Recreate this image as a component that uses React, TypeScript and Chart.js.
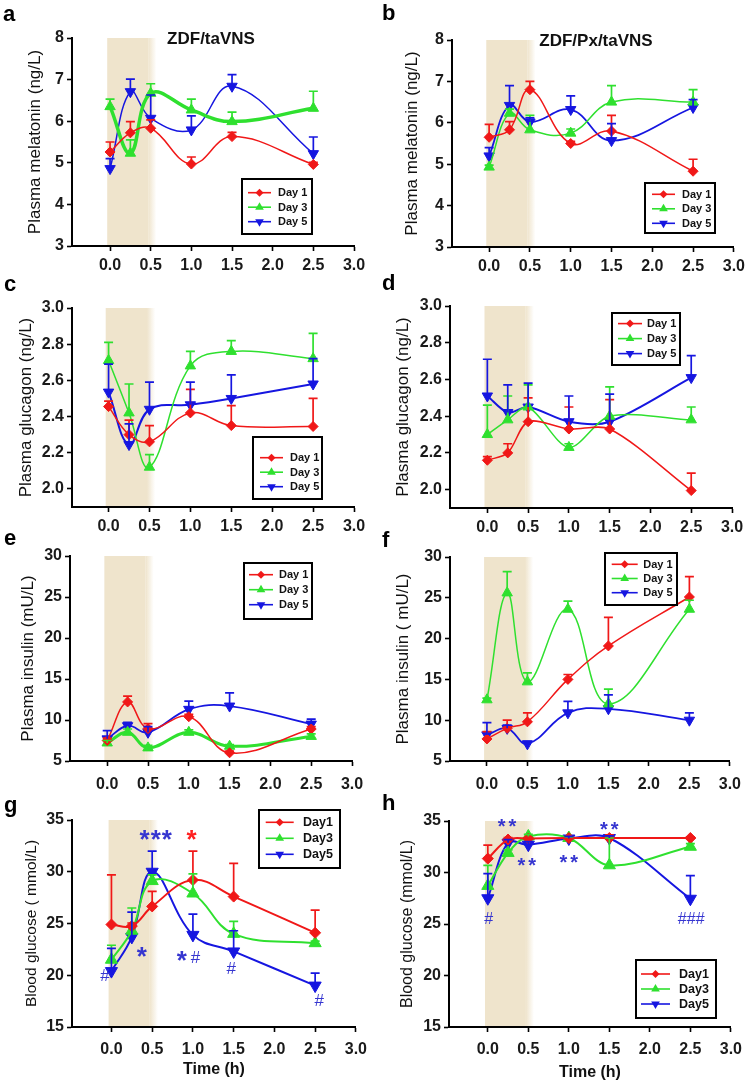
import React, { useEffect, useRef } from 'react';
import { Chart, registerables } from 'chart.js';

Chart.register(...registerables);
const FONT = 'Arial, "Liberation Sans", Helvetica, sans-serif';
Chart.defaults.font.family = FONT;

// ---------- shared axis values ----------
const sampleTimes = [0, 0.25, 0.5, 1.0, 1.5, 2.5];
const timeTicks = [0, 0.5, 1.0, 1.5, 2.0, 2.5, 3.0];
const melatoninTicks = [3, 4, 5, 6, 7, 8];
const glucagonTicks = [2.0, 2.2, 2.4, 2.6, 2.8, 3.0];
const insulinTicks = [5, 10, 15, 20, 25, 30];
const glucoseTicks = [15, 20, 25, 30, 35];
const stimulationWindow = [0, 0.5];
const dayLabelsSpaced = ['Day 1', 'Day 3', 'Day 5'];
const dayLabelsCompact = ['Day1', 'Day3', 'Day5'];

// ---------- (a) melatonin ZDF/taVNS ----------
const melZdfDay1 = [5.26, 5.72, 5.83, 4.97, 5.63, 4.96];
const melZdfDay1Err = [0.24, 0.27, 0.2, 0.17, 0.1, 0.05];
const melZdfDay3 = [6.35, 5.23, 6.67, 6.27, 5.99, 6.31];
const melZdfDay3Err = [0.18, 0.32, 0.23, 0.26, 0.23, 0.41];
const melZdfDay5 = [4.86, 6.71, 6.07, 5.79, 6.84, 5.22];
const melZdfDay5Err = [0.24, 0.3, 0.56, 0.34, 0.28, 0.4];

// ---------- (b) melatonin ZDF/Px/taVNS ----------
const melPxDay1 = [5.65, 5.83, 6.8, 5.5, 5.8, 4.83];
const melPxDay1Err = [0.31, 0.2, 0.2, 0.05, 0.38, 0.29];
const melPxDay3 = [4.93, 6.23, 5.83, 5.75, 6.5, 6.5];
const melPxDay3Err = [0.05, 0.1, 0.35, 0.1, 0.4, 0.3];
const melPxDay5 = [5.2, 6.42, 6.02, 6.32, 5.57, 6.37];
const melPxDay5Err = [0.2, 0.48, 0.1, 0.33, 0.41, 0.19];

// ---------- (c) glucagon ZDF/taVNS ----------
const gcgZdfDay1 = [2.455, 2.3, 2.26, 2.42, 2.35, 2.345];
const gcgZdfDay1Err = [0.03, 0.08, 0.09, 0.13, 0.11, 0.155];
const gcgZdfDay3 = [2.71, 2.42, 2.12, 2.68, 2.76, 2.72];
const gcgZdfDay3Err = [0.1, 0.16, 0.07, 0.08, 0.06, 0.14];
const gcgZdfDay5 = [2.535, 2.245, 2.44, 2.465, 2.5, 2.58];
const gcgZdfDay5Err = [0.155, 0.115, 0.15, 0.125, 0.13, 0.14];

// ---------- (d) glucagon ZDF/Px/taVNS ----------
const gcgPxDay1 = [2.16, 2.2, 2.37, 2.33, 2.33, 1.995];
const gcgPxDay1Err = [0.02, 0.05, 0.13, 0.12, 0.16, 0.095];
const gcgPxDay3 = [2.3, 2.38, 2.45, 2.23, 2.4, 2.38];
const gcgPxDay3Err = [0.16, 0.13, 0.12, 0.02, 0.16, 0.07];
const gcgPxDay5 = [2.51, 2.42, 2.45, 2.37, 2.37, 2.61];
const gcgPxDay5Err = [0.2, 0.15, 0.13, 0.14, 0.15, 0.12];

// ---------- (e) insulin ZDF/taVNS ----------
const insZdfDay1 = [7.5, 12.2, 8.95, 10.4, 6.0, 8.9];
const insZdfDay1Err = [0.3, 0.7, 0.6, 0.3, 0.2, 0.3];
const insZdfDay3 = [7.2, 8.5, 6.6, 8.5, 6.8, 8.0];
const insZdfDay3Err = [0.3, 0.4, 0.3, 0.3, 0.2, 0.3];
const insZdfDay5 = [7.7, 9.3, 8.5, 11.3, 11.7, 9.5];
const insZdfDay5Err = [1.0, 0.4, 0.7, 1.0, 1.6, 0.6];

// ---------- (f) insulin ZDF/Px/taVNS ----------
const insPxDay1 = [7.7, 9.0, 9.8, 15.0, 19.1, 25.1];
const insPxDay1Err = [0.9, 1.0, 1.1, 0.6, 3.5, 2.5];
const insPxDay3 = [12.5, 25.6, 14.7, 23.6, 12.0, 23.6];
const insPxDay3Err = [0.2, 2.6, 1.1, 1.0, 1.8, 1.1];
const insPxDay5 = [8.2, 9.0, 7.1, 10.9, 11.4, 10.0];
const insPxDay5Err = [1.5, 0.4, 0.3, 1.4, 1.7, 0.9];

// ---------- (g) glucose ZDF/taVNS ----------
const gluZdfDay1 = [24.9, 24.75, 26.65, 29.2, 27.6, 24.1];
const gluZdfDay1Err = [4.8, 0.3, 1.45, 2.8, 3.2, 2.2];
const gluZdfDay3 = [21.5, 24.3, 29.1, 27.9, 24.0, 23.1];
const gluZdfDay3Err = [1.4, 2.2, 0.6, 1.9, 1.2, 0.2];
const gluZdfDay5 = [20.4, 23.7, 30.0, 23.9, 22.3, 19.0];
const gluZdfDay5Err = [2.2, 2.4, 2.0, 2.0, 2.0, 1.2];
const gluZdfMarkText = ['***', '*', '*', '*', '#', '#', '#', '#'];
const gluZdfMarkX = [0.55, 0.99, 0.38, 0.87, 1.03, 1.47, -0.08, 2.55];
const gluZdfMarkY = [33.0, 33.0, 21.68, 21.33, 21.65, 20.53, 19.88, 17.47];
const gluZdfMarkColor = ['blue', 'red', 'blue', 'blue', 'blue', 'blue', 'blue', 'blue'];

// ---------- (h) glucose ZDF/Px/taVNS ----------
const gluPxDay1 = [31.35, 33.2, 33.3, 33.35, 33.35, 33.35];
const gluPxDay1Err = [1.3, 0.2, 0.1, 0.1, 0.3, 0.1];
const gluPxDay3 = [28.7, 31.9, 33.5, 33.35, 30.7, 32.5];
const gluPxDay3Err = [2.0, 0.3, 0.2, 0.1, 2.65, 0.3];
const gluPxDay5 = [27.5, 32.9, 32.7, 33.3, 33.35, 27.45];
const gluPxDay5Err = [2.4, 0.3, 0.3, 0.2, 0.2, 2.25];
const gluPxMarkText = ['**', '**', '**', '**', '#', '###'];
const gluPxMarkX = [0.256, 0.5, 1.017, 1.517, 0.012, 2.51];
const gluPxMarkY = [34.36, 30.55, 30.88, 34.1, 25.45, 25.45];
const gluPxMarkColor = ['blue', 'blue', 'blue', 'blue', 'blue', 'blue'];

// ---------- styles ----------
const RED = '#f01818';
const GREEN = '#2fe02f';
const BLUE = '#1616e0';
const MARK_COLORS: Record<string, string> = { blue: '#3636d0', red: '#ff2020' };
const BAND_COLOR = 'rgba(239,228,204,1)';
const BAND_CLEAR = 'rgba(239,228,204,0)';

type Shape = 'diamond' | 'up' | 'down';
type Series = { label: string; values: number[]; errors: number[]; color: string; shape: Shape; width: number };
type Rect = { left: number; top: number; width: number; height: number };
type LegendCfg = {
  left: number; top: number; width: number; height: number; firstRow: number; rowGap: number;
  sampleStart: number; sampleLen: number; textOffset: number; fontSize: number;
};
type Panel = {
  letter: string; letterAt: [number, number]; title?: string; titleAt?: [number, number];
  canvas: Rect; area: { left: number; top: number; right: number; bottom: number };
  xMin: number; yMin: number; yMax: number; yTicks: number[]; yDecimals: number;
  yTitle: string; yTitleX: number; yTitleSize: number; xTickPad: number;
  xTitle?: string; xTitleY?: number;
  series: Series[]; tension: number; diamondR: number; triR: number;
  legend: LegendCfg;
  marks?: { text: string[]; x: number[]; y: number[]; color: string[]; starSize: number; hashSize: number; spacing: number };
};

function trio(labels: string[], d1: number[], e1: number[], d3: number[], e3: number[], d5: number[], e5: number[], widths: number[]): Series[] {
  return [
    { label: labels[0], values: d1, errors: e1, color: RED, shape: 'diamond', width: widths[0] },
    { label: labels[1], values: d3, errors: e3, color: GREEN, shape: 'up', width: widths[1] },
    { label: labels[2], values: d5, errors: e5, color: BLUE, shape: 'down', width: widths[2] },
  ];
}

const panels: Panel[] = [
  {
    letter: 'a', letterAt: [3, 21], title: 'ZDF/taVNS', titleAt: [211, 39],
    canvas: { left: 0, top: 0, width: 375, height: 280 }, area: { left: 72, top: 38, right: 354, bottom: 246 },
    xMin: -0.468, yMin: 3, yMax: 8, yTicks: melatoninTicks, yDecimals: 0,
    yTitle: 'Plasma melatonin (ng/L)', yTitleX: 35, yTitleSize: 17, xTickPad: 5,
    series: trio(dayLabelsSpaced, melZdfDay1, melZdfDay1Err, melZdfDay3, melZdfDay3Err, melZdfDay5, melZdfDay5Err, [1.5, 3.5, 1.5]),
    tension: 0.4, diamondR: 5, triR: 6,
    legend: { left: 242, top: 179, width: 70, height: 55, firstRow: 13.7, rowGap: 14.5, sampleStart: 6, sampleLen: 23, textOffset: 36, fontSize: 11 },
  },
  {
    letter: 'b', letterAt: [382, 20], title: 'ZDF/Px/taVNS', titleAt: [596, 41],
    canvas: { left: 375, top: 0, width: 375, height: 280 }, area: { left: 452, top: 40, right: 734, bottom: 247 },
    xMin: -0.455, yMin: 3, yMax: 8, yTicks: melatoninTicks, yDecimals: 0,
    yTitle: 'Plasma melatonin (ng/L)', yTitleX: 412, yTitleSize: 17, xTickPad: 5,
    series: trio(dayLabelsSpaced, melPxDay1, melPxDay1Err, melPxDay3, melPxDay3Err, melPxDay5, melPxDay5Err, [1.5, 1.5, 1.8]),
    tension: 0.4, diamondR: 5, triR: 6,
    legend: { left: 645, top: 183, width: 70, height: 50, firstRow: 11.3, rowGap: 14.5, sampleStart: 7, sampleLen: 23, textOffset: 37, fontSize: 11 },
  },
  {
    letter: 'c', letterAt: [4, 291],
    canvas: { left: 0, top: 270, width: 375, height: 270 }, area: { left: 72, top: 308, right: 354, bottom: 507 },
    xMin: -0.447, yMin: 1.9, yMax: 3.0, yTicks: glucagonTicks, yDecimals: 1,
    yTitle: 'Plasma glucagon (ng/L)', yTitleX: 26, yTitleSize: 17, xTickPad: 5,
    series: trio(dayLabelsSpaced, gcgZdfDay1, gcgZdfDay1Err, gcgZdfDay3, gcgZdfDay3Err, gcgZdfDay5, gcgZdfDay5Err, [1.5, 1.5, 2]),
    tension: 0.4, diamondR: 5, triR: 6,
    legend: { left: 253, top: 437, width: 69, height: 62, firstRow: 20.7, rowGap: 14.5, sampleStart: 7, sampleLen: 23, textOffset: 37, fontSize: 11 },
  },
  {
    letter: 'd', letterAt: [382, 290],
    canvas: { left: 375, top: 270, width: 375, height: 270 }, area: { left: 450, top: 306, right: 732, bottom: 508 },
    xMin: -0.458, yMin: 1.9, yMax: 3.0, yTicks: glucagonTicks, yDecimals: 1,
    yTitle: 'Plasma glucagon (ng/L)', yTitleX: 403, yTitleSize: 17, xTickPad: 5,
    series: trio(dayLabelsSpaced, gcgPxDay1, gcgPxDay1Err, gcgPxDay3, gcgPxDay3Err, gcgPxDay5, gcgPxDay5Err, [1.5, 1.5, 2]),
    tension: 0.3, diamondR: 5, triR: 6,
    legend: { left: 612, top: 313, width: 68, height: 52, firstRow: 10.6, rowGap: 15, sampleStart: 6, sampleLen: 24, textOffset: 35, fontSize: 11 },
  },
  {
    letter: 'e', letterAt: [4, 545],
    canvas: { left: 0, top: 525, width: 375, height: 275 }, area: { left: 70, top: 556, right: 352, bottom: 761 },
    xMin: -0.456, yMin: 5, yMax: 30, yTicks: insulinTicks, yDecimals: 0,
    yTitle: 'Plasma insulin (mU/L)', yTitleX: 28, yTitleSize: 17, xTickPad: 9,
    series: trio(dayLabelsSpaced, insZdfDay1, insZdfDay1Err, insZdfDay3, insZdfDay3Err, insZdfDay5, insZdfDay5Err, [1.5, 3, 1.8]),
    tension: 0.4, diamondR: 5, triR: 6,
    legend: { left: 244, top: 563, width: 68, height: 56, firstRow: 11.7, rowGap: 15, sampleStart: 5, sampleLen: 24, textOffset: 35, fontSize: 11 },
  },
  {
    letter: 'f', letterAt: [382, 547],
    canvas: { left: 375, top: 525, width: 375, height: 275 }, area: { left: 450, top: 557, right: 732, bottom: 761 },
    xMin: -0.456, yMin: 5, yMax: 30, yTicks: insulinTicks, yDecimals: 0,
    yTitle: 'Plasma insulin ( mU/L)', yTitleX: 403, yTitleSize: 17, xTickPad: 9,
    series: trio(dayLabelsSpaced, insPxDay1, insPxDay1Err, insPxDay3, insPxDay3Err, insPxDay5, insPxDay5Err, [1.5, 1.5, 1.8]),
    tension: 0.4, diamondR: 5, triR: 6,
    legend: { left: 605, top: 553, width: 72, height: 52, firstRow: 11.3, rowGap: 14.2, sampleStart: 6.7, sampleLen: 26, textOffset: 38.3, fontSize: 11 },
  },
  {
    letter: 'g', letterAt: [4, 812],
    canvas: { left: 0, top: 790, width: 375, height: 294 }, area: { left: 72, top: 820, right: 358, bottom: 1027 },
    xMin: -0.484, yMin: 15, yMax: 35, yTicks: glucoseTicks, yDecimals: 0,
    yTitle: 'Blood glucose ( mmol/L)', yTitleX: 32, yTitleSize: 15.5, xTickPad: 8,
    xTitle: 'Time (h)', xTitleY: 1070,
    series: trio(dayLabelsCompact, gluZdfDay1, gluZdfDay1Err, gluZdfDay3, gluZdfDay3Err, gluZdfDay5, gluZdfDay5Err, [2, 2, 2]),
    tension: 0.4, diamondR: 5.5, triR: 7,
    legend: { left: 259, top: 810, width: 81, height: 58, firstRow: 12.3, rowGap: 16, sampleStart: 6.7, sampleLen: 28, textOffset: 44, fontSize: 12.5 },
    marks: { text: gluZdfMarkText, x: gluZdfMarkX, y: gluZdfMarkY, color: gluZdfMarkColor, starSize: 26, hashSize: 17, spacing: 1 },
  },
  {
    letter: 'h', letterAt: [382, 810],
    canvas: { left: 375, top: 790, width: 375, height: 294 }, area: { left: 449, top: 821, right: 734, bottom: 1027 },
    xMin: -0.479, yMin: 15, yMax: 35, yTicks: glucoseTicks, yDecimals: 0,
    yTitle: 'Blood glucose (mmol/L)', yTitleX: 408, yTitleSize: 16, xTickPad: 8,
    xTitle: 'Time (h)', xTitleY: 1073,
    series: trio(dayLabelsCompact, gluPxDay1, gluPxDay1Err, gluPxDay3, gluPxDay3Err, gluPxDay5, gluPxDay5Err, [2, 2, 2]),
    tension: 0.35, diamondR: 5.5, triR: 7,
    legend: { left: 636, top: 960, width: 80, height: 58, firstRow: 14, rowGap: 15, sampleStart: 5, sampleLen: 29, textOffset: 43, fontSize: 12.5 },
    marks: { text: gluPxMarkText, x: gluPxMarkX, y: gluPxMarkY, color: gluPxMarkColor, starSize: 20, hashSize: 16, spacing: 3 },
  },
];

function drawMarker(ctx: CanvasRenderingContext2D, shape: Shape, x: number, y: number, r: number, color: string) {
  ctx.beginPath();
  const c = Math.cos(Math.PI / 6) * r;
  if (shape === 'diamond') {
    ctx.moveTo(x, y - r); ctx.lineTo(x + r, y); ctx.lineTo(x, y + r); ctx.lineTo(x - r, y);
  } else if (shape === 'up') {
    ctx.moveTo(x, y - r); ctx.lineTo(x + c, y + r / 2); ctx.lineTo(x - c, y + r / 2);
  } else {
    ctx.moveTo(x, y + r); ctx.lineTo(x + c, y - r / 2); ctx.lineTo(x - c, y - r / 2);
  }
  ctx.closePath();
  ctx.fillStyle = color;
  ctx.fill();
}

function buildConfig(p: Panel): any {
  const C = p.canvas;
  const A = p.area;
  const ox = C.left;
  const oy = C.top;

  const bandPlugin = {
    id: 'stimBand',
    beforeDraw(chart: any) {
      const { ctx, chartArea: a, scales } = chart;
      const x = scales.x;
      const x0 = x.getPixelForValue(stimulationWindow[0] - 0.035);
      const x1 = x.getPixelForValue(stimulationWindow[1] - 0.03);
      const x2 = x.getPixelForValue(stimulationWindow[1] + 0.07);
      ctx.save();
      ctx.fillStyle = BAND_COLOR;
      ctx.fillRect(x0, a.top, x1 - x0, a.bottom - a.top);
      const g = ctx.createLinearGradient(x1, 0, x2, 0);
      g.addColorStop(0, BAND_COLOR);
      g.addColorStop(1, BAND_CLEAR);
      ctx.fillStyle = g;
      ctx.fillRect(x1, a.top, x2 - x1, a.bottom - a.top);
      ctx.restore();
    },
  };

  const errorPlugin = {
    id: 'errBars',
    afterDatasetsDraw(chart: any) {
      const { ctx } = chart;
      const yScale = chart.scales.y;
      chart.data.datasets.forEach((ds: any, i: number) => {
        const meta = chart.getDatasetMeta(i);
        ctx.save();
        ctx.strokeStyle = ds.borderColor;
        ctx.lineWidth = 1.7;
        meta.data.forEach((pt: any, j: number) => {
          const e = ds.errors[j];
          if (!e) return;
          const yTop = yScale.getPixelForValue(ds.data[j].y + e);
          ctx.beginPath();
          ctx.moveTo(pt.x, pt.y);
          ctx.lineTo(pt.x, yTop);
          ctx.moveTo(pt.x - 4.5, yTop);
          ctx.lineTo(pt.x + 4.5, yTop);
          ctx.stroke();
        });
        ctx.restore();
      });
    },
  };

  const overlayPlugin = {
    id: 'overlay',
    afterDraw(chart: any) {
      const { ctx } = chart;
      const L = p.legend;
      ctx.save();
      // legend box
      const bx = L.left - ox;
      const by = L.top - oy;
      ctx.fillStyle = '#ffffff';
      ctx.fillRect(bx, by, L.width, L.height);
      ctx.strokeStyle = '#000';
      ctx.lineWidth = 2;
      ctx.strokeRect(bx, by, L.width, L.height);
      p.series.forEach((s, i) => {
        const y = by + L.firstRow + i * L.rowGap;
        const x1 = bx + L.sampleStart;
        const x2 = x1 + L.sampleLen;
        ctx.strokeStyle = s.color;
        ctx.lineWidth = 1.6;
        ctx.beginPath();
        ctx.moveTo(x1, y);
        ctx.lineTo(x2, y);
        ctx.stroke();
        drawMarker(ctx, s.shape, (x1 + x2) / 2, y, s.shape === 'diamond' ? 4 : 5, s.color);
        ctx.fillStyle = '#111';
        ctx.font = `bold ${L.fontSize}px ${FONT}`;
        ctx.textAlign = 'left';
        ctx.textBaseline = 'middle';
        ctx.fillText(s.label, bx + L.textOffset, y + 0.5);
      });
      // significance marks
      if (p.marks) {
        const M = p.marks;
        const xs = chart.scales.x;
        const ys = chart.scales.y;
        M.text.forEach((t, i) => {
          const star = t.indexOf('*') >= 0;
          ctx.font = star ? `bold ${M.starSize}px ${FONT}` : `${M.hashSize}px ${FONT}`;
          (ctx as any).letterSpacing = star ? `${M.spacing}px` : '0px';
          ctx.fillStyle = MARK_COLORS[M.color[i]];
          ctx.textAlign = 'center';
          ctx.textBaseline = 'middle';
          ctx.fillText(t, xs.getPixelForValue(M.x[i]), ys.getPixelForValue(M.y[i]));
        });
        (ctx as any).letterSpacing = '0px';
      }
      // panel letter and title
      ctx.fillStyle = '#000';
      ctx.font = `bold 22px ${FONT}`;
      ctx.textAlign = 'left';
      ctx.textBaseline = 'alphabetic';
      ctx.fillText(p.letter, p.letterAt[0] - ox, p.letterAt[1] - oy);
      if (p.title && p.titleAt) {
        ctx.font = `bold 17px ${FONT}`;
        ctx.fillStyle = '#111';
        ctx.textAlign = 'center';
        ctx.textBaseline = 'middle';
        ctx.fillText(p.title, p.titleAt[0] - ox, p.titleAt[1] - oy);
      }
      ctx.restore();
    },
  };

  const tickFont = { size: 16, weight: 'bold' as const };
  const gridCfg = { drawOnChartArea: false, drawTicks: true, tickLength: 5, tickWidth: 1.6, tickColor: '#000', color: '#000' };
  const borderCfg = { display: true, color: '#000', width: 2 };

  return {
    type: 'line',
    data: {
      datasets: p.series.map((s) => ({
        label: s.label,
        data: sampleTimes.map((t, i) => ({ x: t, y: s.values[i] })),
        errors: s.errors,
        borderColor: s.color,
        backgroundColor: s.color,
        pointBackgroundColor: s.color,
        pointBorderColor: s.color,
        pointBorderWidth: 1,
        borderWidth: s.width,
        pointStyle: s.shape === 'diamond' ? 'rectRot' : 'triangle',
        pointRotation: s.shape === 'down' ? 180 : 0,
        pointRadius: s.shape === 'diamond' ? p.diamondR : p.triR,
        tension: p.tension,
        fill: false,
        clip: false,
      })),
    },
    options: {
      animation: false,
      responsive: false,
      maintainAspectRatio: false,
      events: [],
      layout: { padding: { left: 0, top: A.top - oy, right: ox + C.width - A.right, bottom: 0 } },
      plugins: { legend: { display: false }, tooltip: { enabled: false }, title: { display: false } },
      scales: {
        x: {
          type: 'linear', min: p.xMin, max: 3, bounds: 'data',
          afterBuildTicks: (s: any) => { s.ticks = timeTicks.map((v) => ({ value: v })); },
          afterFit: (s: any) => { s.height = oy + C.height - A.bottom; },
          ticks: {
            autoSkip: false, maxRotation: 0, minRotation: 0, padding: p.xTickPad, color: '#1a1a1a', font: tickFont,
            callback: (v: any) => Number(v).toFixed(1),
          },
          grid: gridCfg,
          border: borderCfg,
          title: p.xTitle
            ? { display: true, text: p.xTitle, color: '#111', font: { size: 16, weight: 'bold' }, padding: { top: 0, bottom: oy + C.height - (p.xTitleY as number) - 9.6 } }
            : { display: false },
        },
        y: {
          type: 'linear', min: p.yMin, max: p.yMax, bounds: 'data',
          afterBuildTicks: (s: any) => { s.ticks = p.yTicks.map((v) => ({ value: v })); },
          afterFit: (s: any) => { s.width = A.left - ox; },
          ticks: {
            autoSkip: false, padding: 3, color: '#1a1a1a', font: tickFont,
            callback: (v: any) => Number(v).toFixed(p.yDecimals),
          },
          grid: gridCfg,
          border: borderCfg,
          title: {
            display: true, text: p.yTitle, color: '#111', font: { size: p.yTitleSize, weight: 'normal' },
            padding: { top: p.yTitleX - ox - p.yTitleSize * 0.6, bottom: 0 },
          },
        },
      },
    },
    plugins: [bandPlugin, errorPlugin, overlayPlugin],
  };
}

function PanelChart({ panel }: { panel: Panel }) {
  const ref = useRef<HTMLCanvasElement>(null);
  useEffect(() => {
    const chart = new Chart(ref.current as HTMLCanvasElement, buildConfig(panel));
    return () => chart.destroy();
  }, [panel]);
  const C = panel.canvas;
  return (
    <canvas
      ref={ref}
      width={C.width}
      height={C.height}
      style={{ position: 'absolute', left: C.left, top: C.top, width: C.width, height: C.height }}
    />
  );
}

export default function App() {
  return (
    <div style={{ position: 'absolute', left: 0, top: 0, width: 750, height: 1084, background: '#fff', overflow: 'hidden' }}>
      {panels.map((p) => (
        <PanelChart key={p.letter} panel={p} />
      ))}
    </div>
  );
}
